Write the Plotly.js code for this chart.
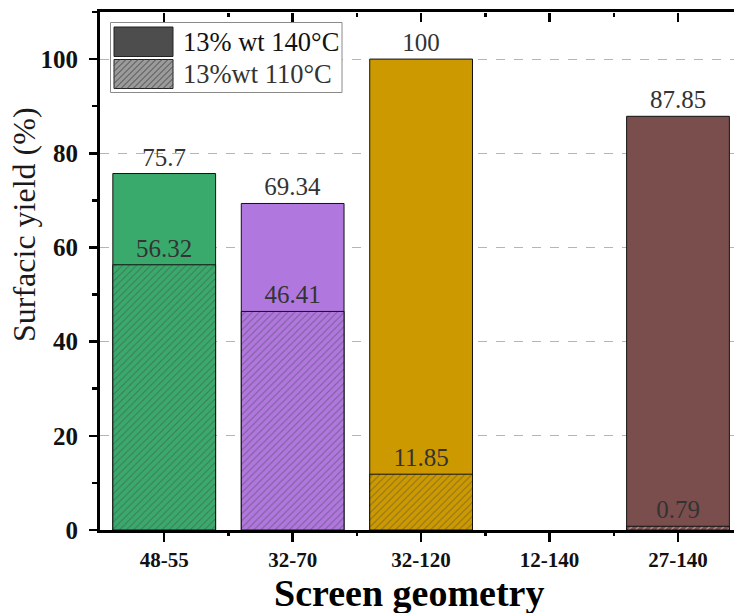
<!DOCTYPE html>
<html>
<head>
<meta charset="utf-8">
<script src="https://cdn.plot.ly/plotly-3.0.1.min.js"></script>
<style>html,body{margin:0;padding:0;background:#fff;overflow:hidden}#chart{width:734px;height:613px}</style>
</head>
<body>
<div id="chart"></div>
<script>
// ---- data ----
const categories = ["48-55", "32-70", "32-120", "12-140", "27-140"];
const yield140 = [75.7, 69.34, 100, null, 87.85];
const yield110 = [56.32, 46.41, 11.85, null, 0.79];
const labels140 = ["75.7", "69.34", "100", "", "87.85"];
const labels110 = ["56.32", "46.41", "11.85", "", "0.79"];
const seriesNames = ["13% wt 140°C", "13%wt 110°C"];
const barColors = ["#3aaa6c", "#b077de", "#cc9a00", "#888888", "#7b4e4e"];
const yTicks = [0, 20, 40, 60, 80, 100];

// ---- layout geometry (pixels) ----
const W = 734, H = 613, ML = 100, MR = 0, MT = 12, MB = 83;
const PW = W - ML - MR, PH = H - MT - MB;
const X = px => (px - ML) / PW;
const Y = py => (H - MB - py) / PH;
const serif = "Liberation Serif";

const traces = [
  {
    type: "bar", x: categories, y: yield140, name: seriesNames[0],
    width: 0.8, text: labels140, textposition: "outside", cliponaxis: false,
    textfont: {family: serif, size: 25, color: "#333"},
    outsidetextfont: {family: serif, size: 25, color: "#333"},
    marker: {color: barColors, line: {color: "#111", width: 1}},
    showlegend: false, hoverinfo: "x+y"
  },
  {
    type: "bar", x: categories, y: yield110, name: seriesNames[1],
    width: 0.8, text: labels110, textposition: "outside", cliponaxis: false,
    textfont: {family: serif, size: 25, color: "#333"},
    outsidetextfont: {family: serif, size: 25, color: "#333"},
    marker: {color: barColors, line: {color: "#111", width: 1},
      pattern: {shape: "/", fgcolor: "#1a1a1a", bgcolor: barColors, size: 5, solidity: 0.2, fillmode: "overlay"}},
    showlegend: false, hoverinfo: "x+y"
  }
];

// legend (decoration)
const shapes = [];
const annotations = [];
shapes.push({type: "rect", xref: "paper", yref: "paper", layer: "above",
  x0: X(110.5), x1: X(342), y0: Y(22.5), y1: Y(92.5),
  fillcolor: "#fff", line: {color: "#8a8a8a", width: 1}});
shapes.push({type: "rect", xref: "paper", yref: "paper", layer: "above",
  x0: X(114), x1: X(173), y0: Y(27), y1: Y(56.5),
  fillcolor: "#4d4d4d", line: {color: "#222", width: 1}});
shapes.push({type: "rect", xref: "paper", yref: "paper", layer: "above",
  x0: X(114), x1: X(173), y0: Y(59.5), y1: Y(88.5),
  fillcolor: "#9a9a9a", line: {color: "#222", width: 1}});
// hatch lines for second swatch
(function () {
  const x0 = 114, x1 = 173, y0 = 59.5, y1 = 88.5, step = 6;
  let d = "";
  for (let c = x0 - (y1 - y0); c < x1; c += step) {
    let ax = c, ay = y1, bx = c + (y1 - y0), by = y0;
    if (ax < x0) { ay = y1 - (x0 - ax); ax = x0; }
    if (bx > x1) { by = y0 + (bx - x1); bx = x1; }
    if (ax >= bx) continue;
    d += `M${X(ax)},${Y(ay)}L${X(bx)},${Y(by)}`;
  }
  shapes.push({type: "path", xref: "paper", yref: "paper", layer: "above", path: d,
    line: {color: "#4a4a4a", width: 1}});
})();
annotations.push({xref: "paper", yref: "paper", x: X(181), y: Y(41.5), xanchor: "left", yanchor: "middle",
  text: seriesNames[0], showarrow: false, font: {family: serif, size: 26.5, color: "#111"}});
annotations.push({xref: "paper", yref: "paper", x: X(181), y: Y(73.5), xanchor: "left", yanchor: "middle",
  text: seriesNames[1], showarrow: false, font: {family: serif, size: 26.5, color: "#333"}});
// axis titles
annotations.push({xref: "paper", yref: "paper", x: X(24), y: Y(225), xanchor: "center", yanchor: "middle",
  textangle: -90, text: "Surfacic yield (%)", showarrow: false, font: {family: serif, size: 32, color: "#1a1a1a"}});
annotations.push({xref: "paper", yref: "paper", x: X(409), y: Y(593), xanchor: "center", yanchor: "middle",
  text: "Screen geometry", showarrow: false, font: {family: serif, size: 38, color: "#000", weight: "bold"}});

const xr = [-0.5, 4.436];
const layout = {
  width: W, height: H,
  margin: {l: ML, r: MR, t: MT, b: MB, pad: 0},
  paper_bgcolor: "#fff", plot_bgcolor: "#fff",
  barmode: "overlay", showlegend: false,
  font: {family: serif},
  xaxis: {
    type: "category", range: xr, showgrid: false, zeroline: false,
    showline: true, linecolor: "#000", linewidth: 3, mirror: true,
    ticks: "outside", ticklen: 9, tickwidth: 2.5, tickcolor: "#000",
    tickfont: {family: serif, size: 21, color: "#111", weight: "bold"},
    ticklabelstandoff: 0
  },
  xaxis2: {
    overlaying: "x", anchor: "y", side: "bottom", type: "linear", range: xr,
    showgrid: false, zeroline: false, showline: false, showticklabels: false,
    tickvals: [0.5, 1.5, 2.5, 3.5, 4.5], ticks: "outside", ticklen: 5, tickwidth: 2.5, tickcolor: "#000"
  },
  xaxis3: {
    overlaying: "x", anchor: "free", position: 1, side: "top", type: "linear", range: xr,
    showgrid: false, zeroline: false, showline: false, showticklabels: false,
    tickvals: [0, 1, 2, 3, 4], ticks: "inside", ticklen: 9, tickwidth: 2.5, tickcolor: "#000",
    minor: {tickvals: [0.5, 1.5, 2.5, 3.5, 4.5], ticks: "inside", ticklen: 4, tickwidth: 2.5, tickcolor: "#000"}
  },
  yaxis: {
    range: [0, 110], tickvals: yTicks, showgrid: true, gridcolor: "#b5b5b5", griddash: "dash", gridwidth: 1,
    zeroline: false, showline: true, linecolor: "#000", linewidth: 3,
    ticks: "outside", ticklen: 8, tickwidth: 2.5, tickcolor: "#000",
    minor: {dtick: 10, tick0: 0, ticks: "outside", ticklen: 5, tickwidth: 2.5, tickcolor: "#000", showgrid: false},
    tickfont: {family: serif, size: 25, color: "#111", weight: "bold"},
    ticklabelstandoff: 6
  },
  shapes: shapes,
  annotations: annotations
};

traces.push({type: "scatter", x: [0], y: [0], xaxis: "x2", yaxis: "y", mode: "markers", marker: {opacity: 0}, hoverinfo: "skip", showlegend: false});
traces.push({type: "scatter", x: [0], y: [0], xaxis: "x3", yaxis: "y", mode: "markers", marker: {opacity: 0}, hoverinfo: "skip", showlegend: false});

Plotly.newPlot("chart", traces, layout, {staticPlot: true, displayModeBar: false});
</script>
</body>
</html>
